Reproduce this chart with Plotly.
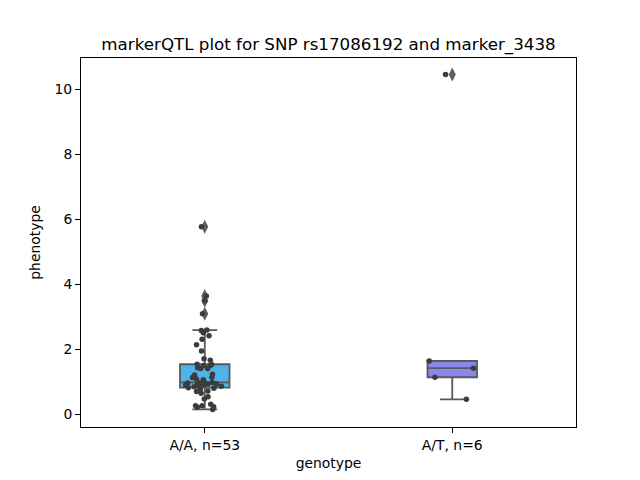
import plotly.graph_objects as go

categories = ["A/A, n=53", "A/T, n=6"]
aa_values = [5.77, 3.64, 3.49, 3.09, 2.59, 2.58, 2.51, 2.42, 2.31, 2.14, 1.95, 1.71, 1.66,
             1.54, 1.53, 1.50, 1.50, 1.43, 1.41, 1.41, 1.23, 1.21, 1.14, 1.13, 1.09, 1.06,
             0.98, 0.97, 0.97, 0.96, 0.95, 0.93, 0.93, 0.92, 0.91, 0.90, 0.88, 0.86, 0.85,
             0.82, 0.80, 0.78, 0.72, 0.70, 0.65, 0.54, 0.47, 0.31, 0.26, 0.26, 0.23, 0.22, 0.15]
at_values = [10.45, 1.64, 1.42, 1.14, 0.46]
series = [aa_values, at_values]
box_colors = ["#4db3e8", "#8986ee"]

fig = go.Figure()
for cat, vals, col in zip(categories, series, box_colors):
    fig.add_trace(go.Box(
        x=[cat] * len(vals), y=vals, name=cat,
        fillcolor=col, line=dict(color="#595959", width=1.8),
        boxpoints="outliers", pointpos=0, jitter=0, width=0.2, whiskerwidth=0.5,
        quartilemethod="inclusive",
        marker=dict(symbol="diamond-tall", color="#5f5f5f", size=10),
        showlegend=False, hoverinfo="y",
    ))
for cat, vals in zip(categories, series):
    fig.add_trace(go.Box(
        x=[cat] * len(vals), y=vals, name=cat + " pts",
        fillcolor="rgba(0,0,0,0)", line=dict(color="rgba(0,0,0,0)", width=0),
        boxpoints="all", pointpos=0, jitter=1, width=0.22,
        quartilemethod="inclusive",
        marker=dict(color="#3c3c3c", size=5.5),
        showlegend=False, hoverinfo="y",
    ))

tick_font = dict(family="DejaVu Sans", size=13.9, color="black")
fig.update_layout(
    width=640, height=480,
    margin=dict(l=73, r=72, t=50, b=61, autoexpand=False),
    paper_bgcolor="white", plot_bgcolor="white",
    boxmode="overlay",
    font=dict(family="DejaVu Sans", size=13.9, color="black"),
    title=dict(text="markerQTL plot for SNP rs17086192 and marker_3438",
               x=(73 + 568) / 2 / 640, xanchor="center", y=1 - 36 / 480, yanchor="middle",
               yref="container", font=dict(size=16.7)),
    xaxis=dict(type="category", categoryorder="array", categoryarray=categories,
               range=[-0.5, 1.5], showline=True, linecolor="black", linewidth=1,
               mirror=True, ticks="outside", ticklen=5, tickcolor="black",
               showgrid=False, zeroline=False, automargin=False, tickfont=tick_font,
               title=dict(text="genotype", standoff=6, font=tick_font)),
    yaxis=dict(range=[-0.39, 10.96], tickvals=[0, 2, 4, 6, 8, 10],
               showline=True, linecolor="black", linewidth=1, mirror=True,
               ticks="outside", ticklen=5, tickcolor="black",
               showgrid=False, zeroline=False, automargin=False, tickfont=tick_font,
               title=dict(text="phenotype", standoff=10, font=tick_font)),
)

fig.write_html("out.html")
